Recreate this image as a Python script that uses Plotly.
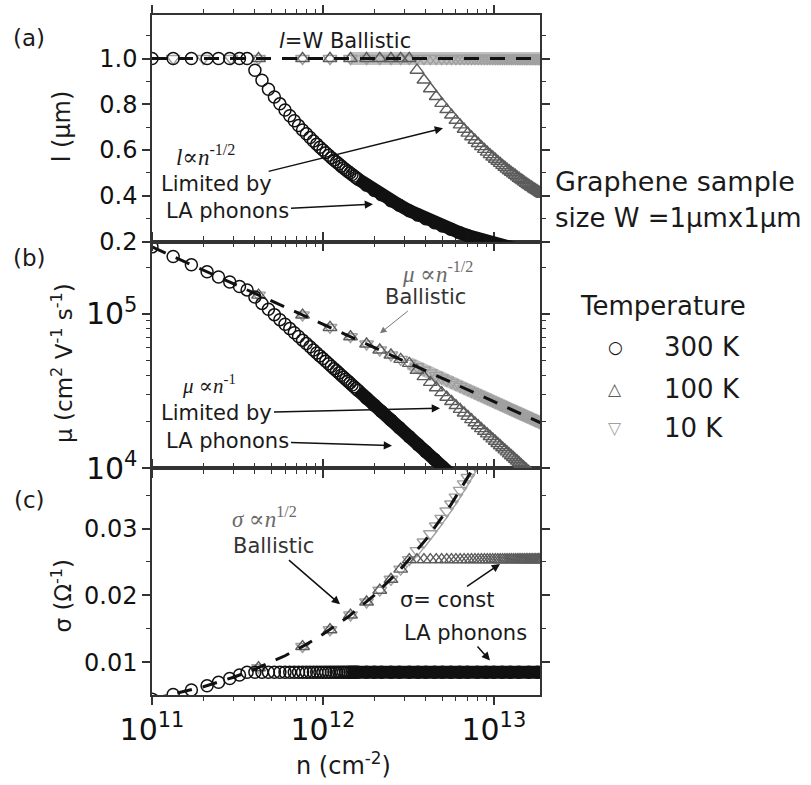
import plotly.graph_objects as go

# ---------------- data (carrier density n in units of 1e11 cm^-2) ----------------
N_300 = [1.0, 1.33, 1.7, 2.1, 2.45, 2.85, 3.25, 3.6,
         4.0, 4.4, 4.8, 5.2, 5.6, 6.0, 6.4, 6.8, 7.2, 7.6, 8.0, 8.4, 8.8, 9.2, 9.6, 10.0,
         10.4, 10.8, 11.2, 11.6, 12.0, 12.4, 12.8, 13.2, 13.6, 14.0, 14.4, 14.8, 15.2, 15.6, 16.0,
         18, 20, 22, 25, 28, 32, 36, 40, 45, 50, 56, 63, 70, 80, 90, 100, 112, 125, 140, 160, 180, 195]
L_300 = [1.0, 1.0, 1.0, 1.0, 1.0, 1.0, 1.0, 1.0,
         0.949, 0.905, 0.866, 0.832, 0.802, 0.775, 0.750, 0.728, 0.707, 0.688, 0.671, 0.655, 0.640, 0.626, 0.612, 0.600,
         0.588, 0.577, 0.567, 0.557, 0.548, 0.539, 0.530, 0.522, 0.514, 0.507, 0.500, 0.493, 0.487, 0.480, 0.474,
         0.447, 0.424, 0.405, 0.379, 0.359, 0.335, 0.316, 0.300, 0.283, 0.268, 0.254, 0.239, 0.227, 0.212, 0.200,
         0.190, 0.179, 0.170, 0.160, 0.150, 0.141, 0.136]
MU_300 = [270000, 234100, 207100, 186300, 172500, 159900, 149800, 142300,
          128000, 116400, 106700, 98500, 91400, 85300, 80000, 75300, 71100, 67400, 64000, 61000, 58200, 55700, 53300, 51200,
          49200, 47400, 45700, 44100, 42700, 41300, 40000, 38800, 37600, 36600, 35600, 34600, 33700, 32800, 32000,
          28400, 25600, 23300, 20500, 18300, 16000, 14200, 12800, 11400, 10200, 9140, 8130, 7310, 6400, 5690,
          5120, 4570, 4100, 3660, 3200, 2840, 2630]
SIG_300 = [0.00448, 0.00517, 0.00584, 0.00649, 0.00701, 0.00756, 0.00808, 0.0085,
           0.0085, 0.0085, 0.0085, 0.0085, 0.0085, 0.0085, 0.0085, 0.0085, 0.0085, 0.0085, 0.0085, 0.0085,
           0.0085, 0.0085, 0.0085, 0.0085, 0.0085, 0.0085, 0.0085, 0.0085, 0.0085, 0.0085, 0.0085, 0.0085,
           0.0085, 0.0085, 0.0085, 0.0085, 0.0085, 0.0085, 0.0085, 0.0085, 0.0085, 0.0085, 0.0085, 0.0085,
           0.0085, 0.0085, 0.0085, 0.0085, 0.0085, 0.0085, 0.0085, 0.0085, 0.0085, 0.0085, 0.0085, 0.0085,
           0.0085, 0.0085, 0.0085, 0.0085, 0.0085]

N_TRI = [4.2, 7.6, 11.0, 14.5, 18.0, 21.5, 25.0, 28.5, 32.0, 35.5, 39.0, 42.5, 46.0, 49.5, 53.0,
         56.5, 60.0, 63.5, 67.0, 70.5, 74.0, 77.5, 81.0, 84.5, 88.0, 91.5, 95.0, 98.5, 102.0, 105.5,
         109.0, 112.5, 116.0, 119.5, 123.0, 126.5, 130.0, 133.5, 137.0, 140.5, 144.0, 147.5, 151.0,
         154.5, 158.0, 161.5, 165.0, 168.5, 172.0, 175.5, 179.0, 182.5, 186.0, 189.5, 193.0]
L_100 = [1.0, 1.0, 1.0, 1.0, 1.0, 1.0, 1.0, 1.0, 1.0,
         0.949, 0.906, 0.868, 0.834, 0.804, 0.777, 0.753, 0.730, 0.710, 0.691, 0.674, 0.658, 0.643,
         0.629, 0.615, 0.603, 0.591, 0.580, 0.570, 0.560, 0.551, 0.542, 0.533, 0.525, 0.517, 0.510,
         0.503, 0.496, 0.490, 0.483, 0.477, 0.471, 0.466, 0.460, 0.455, 0.450, 0.445, 0.440, 0.436,
         0.431, 0.427, 0.423, 0.419, 0.415, 0.411, 0.407]
MU_100 = [131700, 97900, 81400, 70900, 63600, 58200, 54000, 50600, 47700,
          43010, 39150, 35930, 33200, 30850, 28810, 27030, 25450, 24050, 22790, 21660, 20640, 19700,
          18850, 18070, 17350, 16690, 16070, 15500, 14970, 14470, 14010, 13570, 13160, 12780, 12410,
          12070, 11750, 11440, 11150, 10870, 10600, 10350, 10110, 9880, 9660, 9460, 9250, 9060,
          8880, 8700, 8530, 8370, 8210, 8060, 7910]
SIG_100 = [0.00918, 0.01235, 0.01486, 0.01706, 0.01901, 0.02077, 0.0224, 0.02392, 0.02534,
           0.02534, 0.02534, 0.02534, 0.02534, 0.02534, 0.02534, 0.02534, 0.02534, 0.02534, 0.02534,
           0.02534, 0.02534, 0.02534, 0.02534, 0.02534, 0.02534, 0.02534, 0.02534, 0.02534, 0.02534,
           0.02534, 0.02534, 0.02534, 0.02534, 0.02534, 0.02534, 0.02534, 0.02534, 0.02534, 0.02534,
           0.02534, 0.02534, 0.02534, 0.02534, 0.02534, 0.02534, 0.02534, 0.02534, 0.02534, 0.02534,
           0.02534, 0.02534, 0.02534, 0.02534, 0.02534, 0.02534]

L_10 = [1.0, 1.0, 1.0, 1.0, 1.0, 1.0, 1.0, 1.0, 1.0, 1.0, 1.0, 1.0, 1.0, 1.0, 1.0, 1.0, 1.0, 1.0,
        1.0, 1.0, 1.0, 1.0, 1.0, 1.0, 1.0, 1.0, 1.0, 1.0, 1.0, 1.0, 1.0, 1.0, 1.0, 1.0, 1.0, 1.0,
        1.0, 1.0, 1.0, 1.0, 1.0, 1.0, 1.0, 1.0, 1.0, 1.0, 1.0, 1.0, 1.0, 1.0, 1.0, 1.0, 1.0, 1.0, 1.0]
N_10_LOW = [1.33, 2.0, 2.9]
L_10_LOW = [1.0, 1.0, 1.0]
MU_10 = [131700, 97900, 81400, 70900, 63600, 58200, 54000, 50600, 47700,
         45310, 43230, 41420, 39810, 38380, 37090, 35920, 34860, 33880, 32990, 32160, 31390, 30670,
         30000, 29370, 28780, 28230, 27700, 27200, 26730, 26290, 25860, 25460, 25070, 24700, 24350,
         24010, 23680, 23370, 23070, 22780, 22500, 22230, 21970, 21720, 21480, 21250, 21020, 20800,
         20590, 20380, 20180, 19990, 19800, 19610, 19430]
SIG_10 = [0.00918, 0.01235, 0.01486, 0.01706, 0.01901, 0.02077, 0.0224, 0.02392, 0.02534, 0.02669,
          0.02798, 0.02921, 0.03038, 0.03152, 0.03262, 0.03367, 0.0347, 0.0357, 0.03667, 0.03762,
          0.03854, 0.03944, 0.04032, 0.04118]

# ballistic (dashed) reference lines
N_BALL = [1.0, 200.0]
L_BALL = [1.0, 1.0]
MU_BALL = [270000, 19090]
N_BALL_C = [1.0, 2.0, 3.0, 4.0, 6.0, 8.0, 10.0, 14.0, 20.0, 28.0, 40.0, 56.0, 76.0, 85.0]
SIG_BALL = [0.00448, 0.00634, 0.00776, 0.00896, 0.01097, 0.01267, 0.01417, 0.01676, 0.02004,
            0.0237, 0.02833, 0.03353, 0.03906, 0.0413]

# where the overlapping markers merge into a solid band
BAND_300 = {"a": 16, "b": 16, "c": 14}
BAND_10 = {"a": 14.5, "b": 32}

# ---------------- styling ----------------
FONT = "DejaVu Sans"
SERIF = "Liberation Serif, DejaVu Serif, serif"
C300 = "#111111"
C100 = "#5c5c5c"
C10 = "#a0a0a0"
CBAND10 = "#c0c0c0"
MS = 12

L_PX, R_PX, T_PX, B_PX = 152, 540, 5, 695
W, H = 811, 785


def nn(arr):
    return [v * 1e11 for v in arr]


def subset(xs, ys, start):
    pairs = [(x, y) for x, y in zip(xs, ys) if x >= start]
    return [p[0] for p in pairs], [p[1] for p in pairs]


fig = go.Figure()


def add_markers(xs, ys, sym, color, xa, ya, lw=1.4):
    fig.add_trace(go.Scatter(
        x=nn(xs), y=ys, mode="markers", xaxis=xa, yaxis=ya, showlegend=False,
        marker=dict(symbol=sym, size=MS, color=color, line=dict(color=color, width=lw))))


def add_band(xs, ys, color, xa, ya, width=13):
    fig.add_trace(go.Scatter(
        x=nn(xs), y=ys, mode="lines", xaxis=xa, yaxis=ya, showlegend=False,
        line=dict(color=color, width=width)))


def add_dash(xs, ys, xa, ya):
    fig.add_trace(go.Scatter(
        x=nn(xs), y=ys, mode="lines", xaxis=xa, yaxis=ya, showlegend=False,
        line=dict(color="#111111", width=3, dash="15px,11px")))


# panel (a): mean free path -> x3 / y3
bx, by = subset(N_TRI, L_10, BAND_10["a"])
add_band(bx, by, CBAND10, "x3", "y3")
add_markers(N_10_LOW + N_TRI, L_10_LOW + L_10, "triangle-down-open", C10, "x3", "y3")
add_markers(N_TRI, L_100, "triangle-up-open", C100, "x3", "y3")
bx, by = subset(N_300, L_300, BAND_300["a"])
add_band(bx, by, C300, "x3", "y3")
add_markers(N_300, L_300, "circle-open", C300, "x3", "y3", lw=1.5)
add_dash(N_BALL, L_BALL, "x3", "y3")

# panel (b): mobility -> x2 / y2
bx, by = subset(N_TRI, MU_10, BAND_10["b"])
add_band(bx, by, CBAND10, "x2", "y2")
add_markers(N_TRI, MU_10, "triangle-down-open", C10, "x2", "y2")
add_markers(N_TRI, MU_100, "triangle-up-open", C100, "x2", "y2")
bx, by = subset(N_300, MU_300, BAND_300["b"])
add_band(bx, by, C300, "x2", "y2")
add_markers(N_300, MU_300, "circle-open", C300, "x2", "y2", lw=1.5)
add_dash(N_BALL, MU_BALL, "x2", "y2")

# panel (c): conductivity -> x / y
add_markers(N_TRI[:len(SIG_10)], SIG_10, "triangle-down-open", C10, "x", "y")
add_markers(N_TRI, SIG_100, "triangle-up-open", C100, "x", "y")
bx, by = subset(N_300, SIG_300, BAND_300["c"])
add_band(bx, by, C300, "x", "y")
add_markers(N_300, SIG_300, "circle-open", C300, "x", "y", lw=1.5)
add_dash(N_BALL_C, SIG_BALL, "x", "y")

# ---------------- axes ----------------
tickfont = dict(family=FONT, size=24, color="#111111")
common = dict(showline=True, linecolor="#333333", linewidth=1.5, mirror="ticks",
              ticks="outside", ticklen=8, tickwidth=1.5, tickcolor="#333333",
              showgrid=False, zeroline=False, tickfont=tickfont)
xcommon = dict(common, type="log", range=[11, 13.27], dtick=1, exponentformat="power",
               minor=dict(dtick="D1", ticks="outside", ticklen=4, tickwidth=1.2,
                          tickcolor="#333333", showgrid=False))
d = 1.0 / 3.0
fig.update_layout(
    xaxis=dict(xcommon, anchor="y", domain=[0, 1]),
    xaxis2=dict(xcommon, anchor="y2", domain=[0, 1], matches="x", showticklabels=False),
    xaxis3=dict(xcommon, anchor="y3", domain=[0, 1], matches="x", showticklabels=False),
    yaxis=dict(common, domain=[0, d], range=[0.0051, 0.039],
               tickvals=[0.01, 0.02, 0.03], ticktext=["0.01", "0.02", "0.03"],
               minor=dict(tickvals=[0.015, 0.025, 0.035], ticks="outside", ticklen=4,
                          tickwidth=1.2, tickcolor="#333333", showgrid=False)),
    yaxis2=dict(common, domain=[d, 2 * d], type="log", range=[4, 5.465], dtick=1,
                exponentformat="power",
                minor=dict(dtick="D1", ticks="outside", ticklen=4, tickwidth=1.2,
                           tickcolor="#333333", showgrid=False)),
    yaxis3=dict(common, domain=[2 * d, 1], range=[0.2, 1.19],
                tickvals=[0.2, 0.4, 0.6, 0.8, 1.0], ticktext=["0.2", "0.4", "0.6", "0.8", "1.0"],
                minor=dict(tickvals=[0.3, 0.5, 0.7, 0.9, 1.1], ticks="outside", ticklen=4,
                           tickwidth=1.2, tickcolor="#333333", showgrid=False)),
    width=W, height=H,
    margin=dict(l=L_PX, r=W - R_PX, t=T_PX, b=H - B_PX),
    paper_bgcolor="white", plot_bgcolor="white",
    showlegend=False,
)


# ---------------- annotations ----------------
def P(px, py):
    return (px - L_PX) / (R_PX - L_PX), (B_PX - py) / (B_PX - T_PX)


anns = []


def text(px, py, s, size=21, color="#1a1a1a", family=FONT, xanchor="left", angle=0):
    x, y = P(px, py)
    anns.append(dict(x=x, y=y, xref="paper", yref="paper", text=s, showarrow=False,
                     xanchor=xanchor, yanchor="middle", textangle=angle,
                     font=dict(family=family, size=size, color=color)))


def text_arrow(cx, cy, hx, hy, s, size=21, color="#1a1a1a", acolor="#111111", width=1.5, asize=1.1):
    """Text centred at (cx, cy) px with an arrow pointing at (hx, hy) px."""
    x, y = P(hx, hy)
    anns.append(dict(x=x, y=y, xref="paper", yref="paper", text=s, showarrow=True,
                     ax=cx - hx, ay=cy - hy, axref="pixel", ayref="pixel",
                     arrowhead=2, arrowsize=asize, arrowwidth=width, arrowcolor=acolor,
                     standoff=0, startstandoff=2, borderpad=0,
                     font=dict(family=FONT, size=size, color=color)))


# panel letters
text(29, 28, "(a)", size=23, xanchor="center")
text(29, 252, "(b)", size=23, xanchor="center")
text(29, 497, "(c)", size=23, xanchor="center")

# axis titles
text(62, 118, "l (μm)", size=24, xanchor="center", angle=-90)
text(62, 358, "μ (cm<sup>2</sup> V<sup>-1</sup> s<sup>-1</sup>)", size=23, xanchor="center", angle=-90)
text(62, 595, "σ (Ω<sup>-1</sup>)", size=23, xanchor="center", angle=-90)
text(343, 765, "n (cm<sup>-2</sup>)", size=24, xanchor="center")

# panel (a)
text(345, 31, "<i>l</i>=W Ballistic", size=21, xanchor="center")
text(174, 148, "<i>l</i>∝<i>n</i><sup>-1/2</sup>", size=23, family=SERIF)
text_arrow(216, 176, 443, 120, "Limited by")
text_arrow(227, 204, 373, 197, "LA phonons")

# panel (b)
text(437, 266, "<i>μ</i> ∝<i>n</i><sup>-1/2</sup>", size=23, family=SERIF, color="#6a6a6a", xanchor="center")
text_arrow(425, 292, 380, 328, "Ballistic", color="#333333", acolor="#777777", width=1.0, asize=1.3)
text(180, 380, "<i>μ</i> ∝<i>n</i><sup>-1</sup>", size=21, family=SERIF)
text_arrow(216, 409, 440, 404, "Limited by")
text_arrow(227, 437, 392, 442, "LA phonons")

# panel (c)
text(230, 515, "<i>σ</i> ∝<i>n</i><sup>1/2</sup>", size=23, family=SERIF, color="#6a6a6a")
text_arrow(273, 545, 340, 603, "Ballistic", color="#333333")
text_arrow(447, 598, 500, 562, "σ= const")
text_arrow(465, 632, 490, 660, "LA phonons")

# right-hand legend block
text(553, 174, "Graphene sample", size=27)
text(553, 211, "size W =1μmx1μm", size=26)
text(578, 300, "Temperature", size=26)
text(615, 342, "○", size=17, color=C300, xanchor="center")
text(615, 384, "△", size=17, color=C100, xanchor="center")
text(615, 424, "▽", size=17, color=C10, xanchor="center")
text(662, 342, "300 K", size=26)
text(662, 384, "100 K", size=26)
text(662, 424, "10 K", size=26)

fig.update_layout(annotations=anns)

fig.write_html("out.html")
